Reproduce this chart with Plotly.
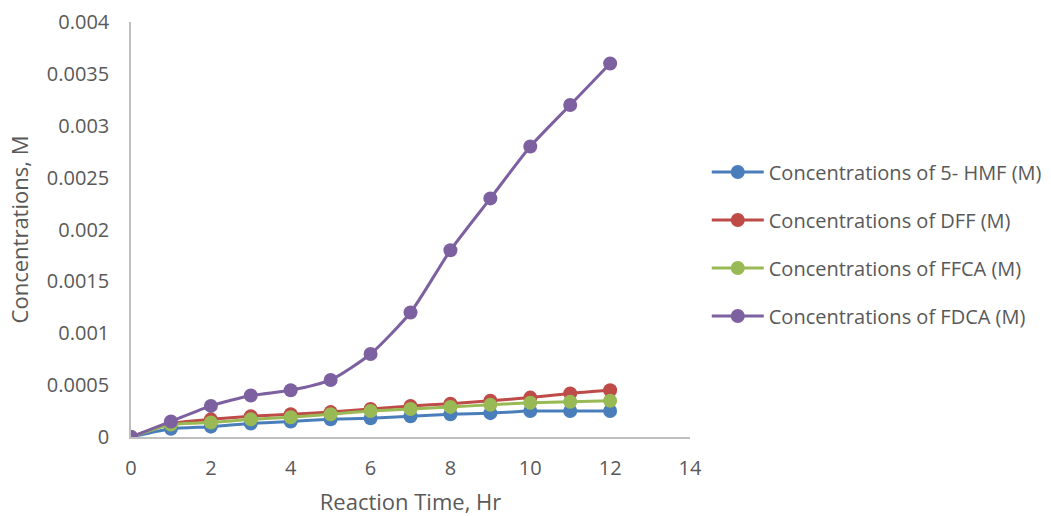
import plotly.graph_objects as go

time_hr = [0, 1, 2, 3, 4, 5, 6, 7, 8, 9, 10, 11, 12]
hmf = [0, 0.00008, 0.0001, 0.00013, 0.00015, 0.00017, 0.00018, 0.0002, 0.00022, 0.00023, 0.00025, 0.00025, 0.00025]
dff = [0, 0.00013, 0.00017, 0.0002, 0.00022, 0.00024, 0.00027, 0.0003, 0.00032, 0.00035, 0.00038, 0.00042, 0.00045]
ffca = [0, 0.00012, 0.00014, 0.00017, 0.00019, 0.00022, 0.00025, 0.00027, 0.00029, 0.00031, 0.00033, 0.00034, 0.00035]
fdca = [0, 0.00015, 0.0003, 0.0004, 0.00045, 0.00055, 0.0008, 0.0012, 0.0018, 0.0023, 0.0028, 0.0032, 0.0036]

series = [
    ("Concentrations of 5- HMF (M)", hmf, "#4A7EBB"),
    ("Concentrations of DFF (M)", dff, "#BE4B48"),
    ("Concentrations of FFCA (M)", ffca, "#98B954"),
    ("Concentrations of FDCA (M)", fdca, "#7D60A0"),
]

fig = go.Figure()
for i, (name, vals, col) in enumerate(series):
    fig.add_trace(go.Scatter(
        x=time_hr, y=vals, name=name, mode="lines+markers",
        line=dict(color=col, width=3, shape="spline", smoothing=0.6),
        marker=dict(color=col, size=14),
        legendgroup=f"g{i}",
    ))

fnt = dict(family="Open Sans, Liberation Sans, sans-serif", color="#595959")
fig.update_layout(
    width=1051, height=516,
    margin=dict(l=131, r=361, t=22, b=79, autoexpand=False),
    paper_bgcolor="white", plot_bgcolor="white",
    font=fnt,
    showlegend=True,
    legend=dict(x=1.03, y=0.465, xanchor="left", yanchor="middle",
                font=dict(size=20, **fnt), tracegroupgap=19,
                traceorder="grouped", itemwidth=52),
    xaxis=dict(range=[0, 14], dtick=2, showgrid=False, zeroline=False,
               showline=True, linecolor="#BFBFBF", linewidth=1.5,
               ticks="", tickfont=dict(size=20, **fnt), ticklabelstandoff=12,
               title=dict(text="Reaction Time, Hr", font=dict(size=22, **fnt), standoff=18)),
    yaxis=dict(range=[0, 0.004], dtick=0.0005, showgrid=False, zeroline=False,
               showline=True, linecolor="#BFBFBF", linewidth=1.5,
               ticks="", tickfont=dict(size=20, **fnt), tickformat="~g", ticklabelstandoff=16,
               title=dict(text="Concentrations, M", font=dict(size=22, **fnt), standoff=12)),
)
fig.write_html("out.html")
